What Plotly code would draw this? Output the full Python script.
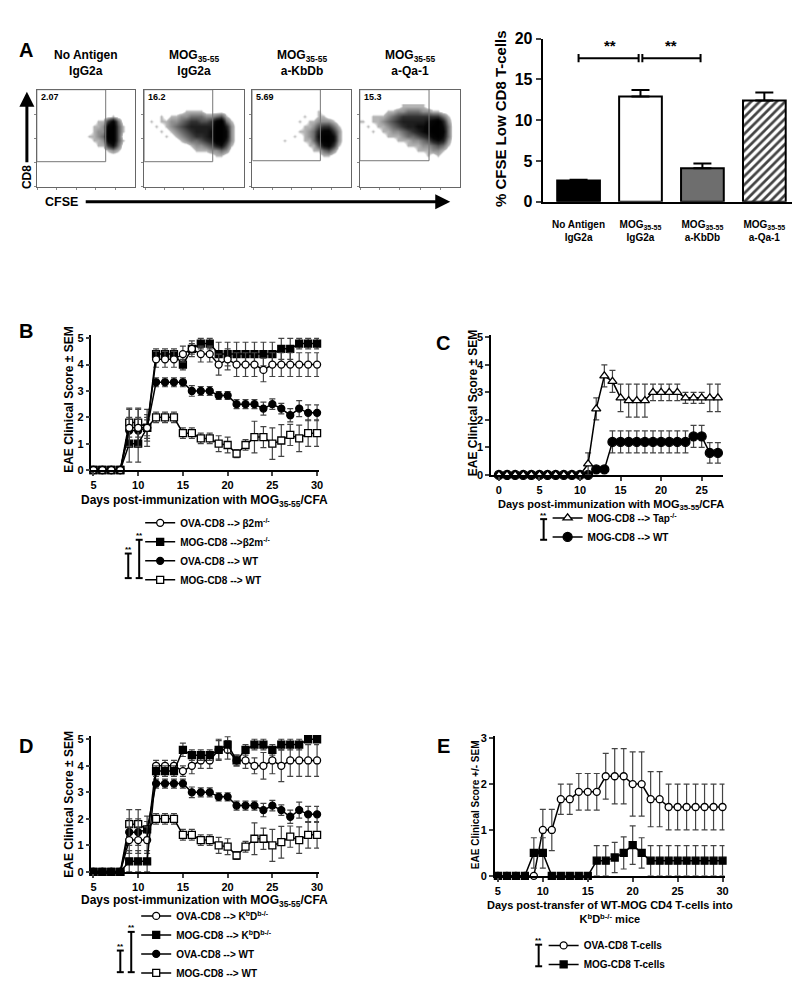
import plotly.graph_objects as go

W, H = 800, 983
FONT = "Liberation Sans, Arial, sans-serif"

# ---------------- DATA ----------------
# Panel A - flow cytometry (density of events, 0..9)
flow_titles = ["No Antigen<br>IgG2a", "MOG<sub>35-55</sub><br>IgG2a",
               "MOG<sub>35-55</sub><br>a-KbDb", "MOG<sub>35-55</sub><br>a-Qa-1"]
flow_pcts = ["2.07", "16.2", "5.69", "15.3"]
flow_gate_right = [70, 69, 69, 69]
flow_gate_bottom = [26, 26, 27, 27]
flow_x_bins = [2.5, 7.5, 12.5, 17.5, 22.5, 27.5, 32.5, 37.5, 42.5, 47.5,
               52.5, 57.5, 62.5, 67.5, 72.5, 77.5, 82.5, 87.5, 92.5, 97.5]
flow_y_bins = [82.5, 77.5, 72.5, 67.5, 62.5, 57.5, 52.5, 47.5, 42.5, 37.5, 32.5, 27.5]
flow_density_noag = ["00000000000000000000", "00000000000000000000", "00000000000000010000",
                     "00000000000011583000", "00000000000112894100", "00000000000122994100",
                     "00000000001123994000", "00000000000112894100", "00000000000011573000",
                     "00000000000000121000", "00000000000000000000", "00000000000000000000"]
flow_density_igg = ["00000000000000000000", "00000000111100000000", "00010112233322341000",
                    "01011223455445893100", "00101234566666996200", "00010123456667997200",
                    "00001012345567997200", "00000001233456996200", "00000000012234674100",
                    "00000000001112232000", "00000000000000110000", "00000000000000000000"]
flow_density_kbdb = ["00000000000000000000", "00000000000001000000", "00000000001001100000",
                     "00000000010112221000", "00000000001124553100", "00000000011236885200",
                     "00000000101237997200", "00000010001136997200", "00000000000114785100",
                     "00000000000011342000", "00000000000000110000", "00000000000000000000"]
flow_density_qa1 = ["00000000111110000000", "00000112233322110000", "00111234555555553100",
                    "10112345666667896200", "01011234566778997300", "00101122345678998300",
                    "00000111233456897300", "00000001112234676200", "00000000011122343100",
                    "00000000000111221000", "00000000000001010000", "00000000000000000000"]

# Panel A - bar chart
bar_labels = ["No Antigen<br>IgG2a", "MOG<sub>35-55</sub><br>IgG2a",
              "MOG<sub>35-55</sub><br>a-KbDb", "MOG<sub>35-55</sub><br>a-Qa-1"]
bar_values = [2.6, 12.9, 4.1, 12.4]
bar_err = [0.1, 0.8, 0.6, 1.0]
bar_colors = ["black", "white", "#6e6e6e", "white"]
bar_patterns = ["", "", "", "/"]

# Panels B and D (days 5..30)
days_5_30 = [5, 6, 7, 8, 9, 10, 11, 12, 13, 14, 15, 16, 17, 18, 19, 20, 21, 22, 23, 24, 25, 26, 27, 28, 29, 30]
b_ova_b2m = [0, 0, 0, 0, 1.6, 1.6, 1.6, 4.2, 4.2, 4.2, 4.4, 4.6, 4.4, 4.4, 4.0, 4.2, 4.0, 4.0, 4.0, 3.8, 4.0, 4.0, 4.0, 4.0, 4.0, 4.0]
b_ova_b2m_err = [0, 0, 0, 0, 0.7, 0.7, 0.4, 0.3, 0.3, 0.3, 0.3, 0.3, 0.3, 0.3, 0.4, 0.4, 0.45, 0.45, 0.45, 0.45, 0.45, 0.45, 0.45, 0.45, 0.45, 0.45]
b_mog_b2m = [0, 0, 0, 0, 1.0, 1.0, 1.6, 4.4, 4.4, 4.4, 4.0, 4.6, 4.8, 4.8, 4.4, 4.4, 4.4, 4.4, 4.4, 4.4, 4.4, 4.6, 4.6, 4.8, 4.8, 4.8]
b_mog_b2m_err = [0, 0, 0, 0, 0.7, 0.7, 0.7, 0.2, 0.2, 0.2, 0.2, 0.2, 0.2, 0.2, 0.45, 0.45, 0.45, 0.45, 0.45, 0.45, 0.45, 0.4, 0.4, 0.2, 0.2, 0.2]
wt_ova = [0, 0, 0, 0, 1.5, 1.5, 1.6, 3.33, 3.33, 3.33, 3.33, 3.0, 3.0, 3.0, 2.83, 2.83, 2.5, 2.5, 2.5, 2.33, 2.5, 2.33, 2.08, 2.33, 2.17, 2.17]
wt_ova_err = [0, 0, 0, 0, 0.5, 0.5, 0.3, 0.17, 0.17, 0.17, 0.17, 0.2, 0.17, 0.17, 0.15, 0.15, 0.17, 0.17, 0.17, 0.25, 0.2, 0.2, 0.25, 0.3, 0.3, 0.3]
wt_mog = [0, 0, 0, 0, 1.8, 1.8, 1.6, 2.0, 2.0, 2.0, 1.4, 1.4, 1.2, 1.2, 1.0, 0.95, 0.62, 0.95, 1.25, 1.25, 1.0, 1.12, 1.33, 1.2, 1.4, 1.4]
wt_mog_err = [0, 0, 0, 0, 0.55, 0.55, 0.5, 0.2, 0.2, 0.2, 0.2, 0.2, 0.2, 0.2, 0.3, 0.3, 0.15, 0.2, 0.6, 0.4, 0.6, 0.6, 0.4, 0.5, 0.5, 0.5]
d_ova_kbdb = [0, 0, 0, 0, 1.2, 1.2, 1.2, 4.0, 4.0, 4.0, 3.8, 4.0, 4.2, 4.2, 4.6, 4.6, 4.2, 4.2, 4.0, 4.0, 4.2, 4.0, 4.2, 4.2, 4.2, 4.2]
d_ova_kbdb_err = [0, 0, 0, 0, 0.5, 0.5, 0.5, 0.2, 0.2, 0.2, 0.2, 0.3, 0.3, 0.3, 0.35, 0.35, 0.2, 0.3, 0.3, 0.5, 0.5, 0.6, 0.6, 0.6, 0.6, 0.6]
d_mog_kbdb = [0, 0, 0, 0, 0.4, 0.4, 0.4, 3.8, 3.8, 3.8, 4.6, 4.4, 4.4, 4.4, 4.6, 4.8, 4.2, 4.6, 4.8, 4.8, 4.6, 4.8, 4.8, 4.8, 5.0, 5.0]
d_mog_kbdb_err = [0, 0, 0, 0, 0.4, 0.4, 0.4, 0.2, 0.2, 0.2, 0.25, 0.2, 0.2, 0.2, 0.4, 0.3, 0.2, 0.2, 0.2, 0.2, 0.2, 0.2, 0.2, 0.2, 0, 0]

# Panel C (days 0..27)
days_0_27 = [0, 1, 2, 3, 4, 5, 6, 7, 8, 9, 10, 11, 12, 13, 14, 15, 16, 17, 18, 19, 20, 21, 22, 23, 24, 25, 26, 27]
c_tap = [0, 0, 0, 0, 0, 0, 0, 0, 0, 0, 0, 0.4, 2.4, 3.6, 3.4, 2.8, 2.7, 2.7, 2.7, 3.0, 3.0, 3.0, 3.0, 2.8, 2.8, 2.8, 2.8, 2.8]
c_tap_err = [0, 0, 0, 0, 0, 0, 0, 0, 0, 0, 0, 0.4, 0.4, 0.4, 0.4, 0.5, 0.6, 0.6, 0.6, 0.3, 0.3, 0.3, 0.3, 0.2, 0.2, 0.2, 0.5, 0.5]
c_wt = [0, 0, 0, 0, 0, 0, 0, 0, 0, 0, 0, 0, 0.2, 0.2, 1.2, 1.2, 1.2, 1.2, 1.2, 1.2, 1.2, 1.2, 1.2, 1.2, 1.4, 1.4, 0.8, 0.8]
c_wt_err = [0, 0, 0, 0, 0, 0, 0, 0, 0, 0, 0, 0, 0.1, 0.1, 0.4, 0.4, 0.4, 0.4, 0.4, 0.4, 0.4, 0.4, 0.4, 0.4, 0.4, 0.4, 0.37, 0.37]

# Panel E (days 5..30)
e_ova = [0, 0, 0, 0, 0, 1.0, 1.0, 1.67, 1.67, 1.83, 1.83, 1.83, 2.17, 2.17, 2.17, 2.0, 2.0, 1.67, 1.67, 1.5, 1.5, 1.5, 1.5, 1.5, 1.5, 1.5]
e_ova_err = [0, 0, 0, 0, 0, 0.45, 0.45, 0.33, 0.33, 0.4, 0.4, 0.4, 0.5, 0.6, 0.6, 0.7, 0.7, 0.6, 0.6, 0.5, 0.5, 0.5, 0.5, 0.5, 0.5, 0.5]
e_mog = [0, 0, 0, 0, 0.5, 0.5, 0, 0, 0, 0, 0, 0.33, 0.33, 0.4, 0.5, 0.67, 0.5, 0.33, 0.33, 0.33, 0.33, 0.33, 0.33, 0.33, 0.33, 0.33]
e_mog_err = [0, 0, 0, 0, 0.33, 0.33, 0, 0, 0, 0, 0, 0.33, 0.33, 0.33, 0.35, 0.42, 0.33, 0.33, 0.33, 0.33, 0.33, 0.33, 0.33, 0.33, 0.33, 0.33]


# ---------------- HELPERS ----------------
def px(x):
    return x / W


def py(y):
    return 1 - y / H


def dom_x(a, b):
    return [px(a), px(b)]


def dom_y(top, bot):
    return [py(bot), py(top)]


def bold(size, color="black"):
    return dict(family=FONT, size=size, color=color, weight="bold")


annotations = []
shapes = []


def ann(text, x, y, size, **kw):
    d = dict(text=text, x=px(x), y=py(y), xref="paper", yref="paper",
             xanchor="center", yanchor="middle", showarrow=False, font=bold(size))
    d.update(kw)
    annotations.append(d)


def bracket(xc, ytop, ybot, cap=3.5):
    ln = dict(color="black", width=2)
    shapes.append(dict(type="line", xref="paper", yref="paper", x0=px(xc), x1=px(xc),
                       y0=py(ytop), y1=py(ybot), line=ln))
    for yy in (ytop, ybot):
        shapes.append(dict(type="line", xref="paper", yref="paper", x0=px(xc - cap),
                           x1=px(xc + cap), y0=py(yy), y1=py(yy), line=ln))
    ann("**", xc, ytop - 4, 8)


fig = go.Figure()
layout = {}

# ---------------- Panel A: flow plots ----------------
flow_boxes = [(28, 127), (136, 236), (245, 344), (353, 454)]
flow_top, flow_bot = 75, 174
densities = [flow_density_noag, flow_density_igg, flow_density_kbdb, flow_density_qa1]
cscale = [[0, "white"], [0.06, "white"], [0.11, "rgb(180,180,180)"], [0.33, "rgb(110,110,110)"],
          [0.56, "rgb(48,48,48)"], [0.8, "rgb(8,8,8)"], [1, "black"]]
for i in range(4):
    n = i + 1
    z = [[int(c) for c in row] for row in densities[i]]
    fig.add_trace(go.Heatmap(x=flow_x_bins, y=flow_y_bins, z=z, zmin=0, zmax=9,
                             colorscale=cscale, showscale=False, zsmooth="best",
                             hoverinfo="skip", xaxis=f"x{n}", yaxis=f"y{n}"))
    ax = dict(range=[0, 100], showline=True, mirror=True, linecolor="#666", linewidth=1,
              showgrid=False, zeroline=False, showticklabels=False, ticks="outside",
              ticklen=2, tickcolor="#888")
    layout[f"xaxis{n}"] = dict(ax, domain=dom_x(*flow_boxes[i]), anchor=f"y{n}",
                               tickvals=[1, 20, 40, 60, 80])
    layout[f"yaxis{n}"] = dict(ax, domain=dom_y(flow_top, flow_bot), anchor=f"x{n}",
                               tickvals=[1, 25, 50, 75])
    shapes.append(dict(type="rect", xref=f"x{n}", yref=f"y{n}", x0=0, x1=flow_gate_right[i],
                       y0=flow_gate_bottom[i], y1=100, line=dict(color="#777", width=1)))
    xc = (flow_boxes[i][0] + flow_boxes[i][1]) / 2
    ann(flow_titles[i], xc, 48, 12)
    ann(flow_pcts[i], flow_boxes[i][0] + 2, 82, 9, xanchor="left")

ann("A", 17, 35, 20)
ann("CD8", 18, 164, 12, textangle=-90)
ann("CFSE", 53, 189, 12.5)
annotations.append(dict(x=px(18), y=py(77), xref="paper", yref="paper", text="",
                        showarrow=True, ax=0, ay=72, arrowhead=2, arrowsize=1,
                        arrowwidth=3, arrowcolor="black"))
annotations.append(dict(x=px(444), y=py(189), xref="paper", yref="paper", text="",
                        showarrow=True, ax=-366, ay=0, arrowhead=2, arrowsize=1,
                        arrowwidth=3, arrowcolor="black"))

# ---------------- Panel A: bar chart ----------------
fig.add_trace(go.Bar(
    x=bar_labels, y=bar_values, width=0.69, xaxis="x5", yaxis="y5", showlegend=False,
    marker=dict(color=bar_colors, line=dict(color="black", width=2),
                pattern=dict(shape=bar_patterns, fgcolor="black", fgopacity=1,
                             size=6, solidity=0.45)),
    error_y=dict(type="data", array=bar_err, arrayminus=[0, 0, 0, 0], symmetric=False,
                 color="black", thickness=2, width=9)))
layout["xaxis5"] = dict(domain=dom_x(537, 790), anchor="y5", range=[-0.58, 3.48],
                        showline=True, linecolor="black", linewidth=2, showgrid=False,
                        ticks="outside", ticklen=12, tickcolor="rgba(0,0,0,0)",
                        tickfont=bold(10))
layout["yaxis5"] = dict(domain=dom_y(23, 189), anchor="x5", range=[0, 20],
                        showline=True, linecolor="black", linewidth=2, showgrid=False,
                        zeroline=False, ticks="outside", ticklen=5, tickwidth=2,
                        tickvals=[0, 5, 10, 15, 20], tickfont=bold(16))
ann("% CFSE Low CD8 T-cells", 494, 104, 15, textangle=-90)
sig_y = 17.6
for a, b in ((0, 1), (1, 2)):
    xa0 = a + (0.03 if a else 0)
    xb0 = b - 0.03
    shapes.append(dict(type="line", xref="x5", yref="y5", x0=xa0, x1=xb0,
                       y0=sig_y, y1=sig_y, line=dict(color="black", width=2)))
    for xx in (xa0, xb0):
        shapes.append(dict(type="line", xref="x5", yref="y5", x0=xx, x1=xx,
                           y0=sig_y - 0.5, y1=sig_y + 0.5, line=dict(color="black", width=2)))
    annotations.append(dict(text="**", x=(a + b) / 2, y=sig_y + 1.6, xref="x5", yref="y5",
                            xanchor="center", yanchor="middle", showarrow=False, font=bold(15)))


# ---------------- line panels ----------------
def series(x, y, err, name, symbol, fill, xa, ya, legend, rank, size=7):
    fig.add_trace(go.Scatter(
        x=x, y=y, mode="lines+markers", name=name, xaxis=xa, yaxis=ya,
        legend=legend, legendrank=rank, cliponaxis=False,
        line=dict(color="black", width=1.5),
        marker=dict(symbol=symbol, size=size, color=fill, line=dict(color="black", width=1.3)),
        error_y=dict(type="data", array=err, color="#444", thickness=1.2, width=3)))


def line_axes(n, xpx, xr, ypx, yr, xdt, x0, ydt, tick_size=11):
    layout[f"xaxis{n}"] = dict(domain=dom_x(*xpx), anchor=f"y{n}", range=xr, showline=True,
                               linecolor="black", linewidth=1.5, showgrid=False, zeroline=False,
                               ticks="outside", ticklen=4, tickwidth=1.5, dtick=xdt, tick0=x0,
                               tickfont=bold(tick_size))
    layout[f"yaxis{n}"] = dict(domain=dom_y(*ypx), anchor=f"x{n}", range=yr, showline=True,
                               linecolor="black", linewidth=1.5, showgrid=False, zeroline=False,
                               ticks="outside", ticklen=4, tickwidth=1.5, dtick=ydt, tick0=0,
                               tickfont=bold(tick_size))


# Panel B
series(days_5_30, wt_mog, wt_mog_err, "MOG-CD8 --> WT", "square", "white", "x6", "y6", "legend", 4)
series(days_5_30, wt_ova, wt_ova_err, "OVA-CD8 --> WT", "circle", "black", "x6", "y6", "legend", 3)
series(days_5_30, b_mog_b2m, b_mog_b2m_err, "MOG-CD8 -->β2m<sup>-/-</sup>", "square", "black", "x6", "y6", "legend", 2)
series(days_5_30, b_ova_b2m, b_ova_b2m_err, "OVA-CD8 --> β2m<sup>-/-</sup>", "circle", "white", "x6", "y6", "legend", 1)
line_axes(6, (83, 312), [4.78, 30.22], (325, 462), [0, 5.11], 5, 5, 1)
ann("B", 17, 321, 20)
ann("EAE Clinical Score ± SEM", 61, 390, 12, textangle=-90)
ann("Days post-immunization with MOG<sub>35-55</sub>/CFA", 197, 494, 12)

# Panel C
series(days_0_27, c_wt, c_wt_err, "MOG-CD8 --> WT", "circle", "black", "x7", "y7", "legend2", 2, 9)
series(days_0_27, c_tap, c_tap_err, "MOG-CD8 --> Tap<sup>-/-</sup>", "triangle-up", "white", "x7", "y7", "legend2", 1, 8)
line_axes(7, (485, 718), [-0.98, 27.57], (325, 467), [0, 5.07], 5, 0, 1)
ann("C", 437, 333, 20)
ann("EAE Clinical Score ± SEM", 467, 394, 12, textangle=-90)
ann("Days post-immunization with MOG<sub>35-55</sub>/CFA", 606, 498, 11)

# Panel D
series(days_5_30, wt_mog, wt_mog_err, "MOG-CD8 --> WT", "square", "white", "x8", "y8", "legend3", 4)
series(days_5_30, wt_ova, wt_ova_err, "OVA-CD8 --> WT", "circle", "black", "x8", "y8", "legend3", 3)
series(days_5_30, d_ova_kbdb, d_ova_kbdb_err, "OVA-CD8 --> K<sup>b</sup>D<sup>b-/-</sup>", "circle", "white", "x8", "y8", "legend3", 1)
series(days_5_30, d_mog_kbdb, d_mog_kbdb_err, "MOG-CD8 --> K<sup>b</sup>D<sup>b-/-</sup>", "square", "black", "x8", "y8", "legend3", 2)
line_axes(8, (83, 312), [4.78, 30.22], (733, 871), [0, 5.11], 5, 5, 1)
ann("D", 17, 743, 20)
ann("EAE Clinical Score ± SEM", 61, 802, 12, textangle=-90)
ann("Days post-immunization with MOG<sub>35-55</sub>/CFA", 197, 901, 12)

# Panel E
series(days_5_30, e_ova, e_ova_err, "OVA-CD8 T-cells", "circle", "white", "x9", "y9", "legend4", 1)
series(days_5_30, e_mog, e_mog_err, "MOG-CD8 T-cells", "square", "black", "x9", "y9", "legend4", 2)
line_axes(9, (489, 720), [4.67, 30.22], (733, 875), [0, 3.04], 5, 5, 1)
ann("E", 437, 743, 20)
ann("EAE Clinical Score +/- SEM", 469, 803, 10, textangle=-90)
ann("Days post-transfer of WT-MOG CD4 T-cells into<br>K<sup>b</sup>D<sup>b-/-</sup> mice", 605, 912, 11)


# ---------------- legends ----------------
def leg(xl, ytop):
    return dict(x=px(xl), y=py(ytop), xanchor="left", yanchor="top", bgcolor="rgba(0,0,0,0)",
                font=bold(10), tracegroupgap=0, itemwidth=30, borderwidth=0)


layout["legend"] = leg(132, 501)
layout["legend2"] = leg(542, 496)
layout["legend3"] = leg(128, 901)
layout["legend4"] = leg(538, 931)

# significance brackets beside legends
bracket(120, 547, 572)
bracket(131, 533, 572)
bracket(538, 512, 533)
bracket(112, 951, 973)
bracket(123, 932, 973)
bracket(533, 945, 967)

fig.update_layout(
    width=W, height=H, autosize=False, margin=dict(l=0, r=0, t=0, b=0),
    paper_bgcolor="white", plot_bgcolor="white", font=dict(family=FONT, color="black"),
    annotations=annotations, shapes=shapes, **layout)

fig.write_html("out.html")
